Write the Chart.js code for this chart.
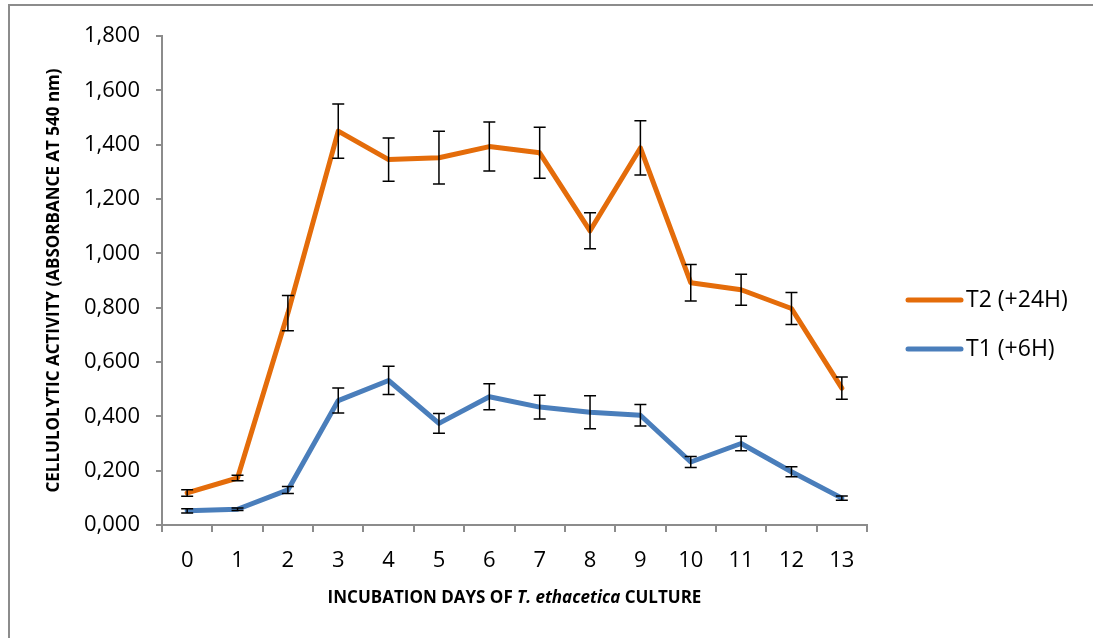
<!DOCTYPE html>
<html>
<head>
<meta charset="utf-8">
<script src="https://cdn.jsdelivr.net/npm/chart.js@4.4.0/dist/chart.umd.min.js"></script>
<style>
  html, body { margin: 0; padding: 0; background: #ffffff; }
  #wrap { width: 1093px; height: 638px; position: relative; }
</style>
</head>
<body>
<div id="wrap"><canvas id="activity_chart"></canvas></div>
<script>
// the data
const days = ['0', '1', '2', '3', '4', '5', '6', '7', '8', '9', '10', '11', '12', '13']
const t2_values = [0.118, 0.173, 0.780, 1.450, 1.345, 1.352, 1.393, 1.370, 1.083, 1.388, 0.892, 0.866, 0.797, 0.504]
const t2_errors = [0.012, 0.010, 0.065, 0.100, 0.080, 0.097, 0.090, 0.094, 0.066, 0.100, 0.067, 0.057, 0.059, 0.041]
const t1_values = [0.052, 0.058, 0.129, 0.458, 0.532, 0.374, 0.472, 0.434, 0.415, 0.404, 0.232, 0.300, 0.196, 0.099]
const t1_errors = [0.008, 0.005, 0.013, 0.046, 0.052, 0.036, 0.048, 0.044, 0.061, 0.040, 0.020, 0.027, 0.018, 0.008]
const series_names = ['T2 (+24H)', 'T1 (+6H)']
const series_colors = ['#E46C0A', '#4A7EBB']

const axis_grey = '#8c8c8c'
const font_name = "'Open Sans', 'Liberation Sans', sans-serif"

// error bars, drawn from the y scale of the chart
const error_bars_plugin = {
  id: 'error_bars',
  afterDatasetsDraw(chart) {
    const ctx = chart.ctx
    const y_scale = chart.scales.y
    const all_errors = [t2_errors, t1_errors]
    ctx.save()
    ctx.strokeStyle = '#000000'
    ctx.lineWidth = 1.5
    chart.data.datasets.forEach((ds, i) => {
      const meta = chart.getDatasetMeta(i)
      meta.data.forEach((pt, j) => {
        const top = y_scale.getPixelForValue(ds.data[j] + all_errors[i][j])
        const bottom = y_scale.getPixelForValue(ds.data[j] - all_errors[i][j])
        ctx.beginPath()
        ctx.moveTo(pt.x, top)
        ctx.lineTo(pt.x, bottom)
        ctx.moveTo(pt.x - 6, top)
        ctx.lineTo(pt.x + 6, top)
        ctx.moveTo(pt.x - 6, bottom)
        ctx.lineTo(pt.x + 6, bottom)
        ctx.stroke()
      })
    })
    ctx.restore()
  }
}

// frame, x title with the italic species name, and the legend on the right
const decorations_plugin = {
  id: 'decorations',
  afterDraw(chart) {
    const ctx = chart.ctx
    const area = chart.chartArea
    ctx.save()

    // the grey frame (top and left edge are visible in the figure)
    ctx.strokeStyle = axis_grey
    ctx.lineWidth = 2
    ctx.beginPath()
    ctx.moveTo(9, 638)
    ctx.lineTo(9, 5)
    ctx.lineTo(1093, 5)
    ctx.stroke()

    // x title in three parts
    const parts = [
      ['INCUBATION DAYS OF ', 'bold 17px ' + font_name],
      ['T. ethacetica', 'italic bold 17px ' + font_name],
      [' CULTURE', 'bold 17px ' + font_name]
    ]
    let total = 0
    parts.forEach(p => { ctx.font = p[1]; total += ctx.measureText(p[0]).width })
    let x = (area.left + area.right) / 2 - total / 2
    ctx.fillStyle = '#000000'
    ctx.textBaseline = 'middle'
    ctx.textAlign = 'left'
    parts.forEach(p => {
      ctx.font = p[1]
      ctx.fillText(p[0], x, 598)
      x += ctx.measureText(p[0]).width
    })

    // legend
    const legend_y = [300, 349]
    series_names.forEach((name, i) => {
      ctx.strokeStyle = series_colors[i]
      ctx.lineWidth = 5
      ctx.lineCap = 'round'
      ctx.beginPath()
      ctx.moveTo(908, legend_y[i])
      ctx.lineTo(961, legend_y[i])
      ctx.stroke()
      ctx.fillStyle = '#000000'
      ctx.font = '23px ' + font_name
      ctx.fillText(name, 966, legend_y[i])
    })
    ctx.restore()
  }
}

function make_datasets() {
  return [
    { label: series_names[0], data: t2_values },
    { label: series_names[1], data: t1_values }
  ].map((ds, i) => Object.assign(ds, {
    borderColor: series_colors[i],
    backgroundColor: series_colors[i],
    borderWidth: 5,
    pointRadius: 0,
    borderJoinStyle: 'round',
    borderCapStyle: 'round',
    tension: 0
  }))
}

const config = {
  type: 'line',
  data: { labels: days, datasets: make_datasets() },
  options: {
    responsive: true,
    maintainAspectRatio: false,
    animation: false,
    layout: { padding: { left: 44, right: 226, top: 36, bottom: 0 } },
    plugins: {
      legend: { display: false },
      tooltip: { enabled: false }
    },
    scales: {
      x: {
        type: 'category',
        offset: true,
        grid: { offset: true, drawOnChartArea: false, drawTicks: true, tickLength: 7, color: axis_grey, lineWidth: 2 },
        border: { color: axis_grey, width: 2 },
        ticks: { color: '#000000', font: { family: font_name, size: 22 }, padding: 16, maxRotation: 0 },
        afterFit: scale => { scale.height = 113 }
      },
      y: {
        min: 0,
        max: 1.8,
        grid: { drawOnChartArea: false, drawTicks: true, tickLength: 6, color: axis_grey, lineWidth: 2 },
        border: { color: axis_grey, width: 2 },
        ticks: {
          stepSize: 0.2,
          color: '#000000',
          font: { family: font_name, size: 22 },
          padding: 16,
          callback: v => v.toFixed(3).replace('.', ',')
        },
        title: {
          display: true,
          text: 'CELLULOLYTIC ACTIVITY (ABSORBANCE AT 540 nm)',
          color: '#000000',
          font: { family: font_name, size: 17, weight: 'bold' },
          padding: 0
        },
        afterFit: scale => { scale.width = 118 }
      }
    }
  },
  plugins: [error_bars_plugin, decorations_plugin]
}

const activity_chart = new Chart(document.getElementById('activity_chart'), config)
</script>
</body>
</html>
